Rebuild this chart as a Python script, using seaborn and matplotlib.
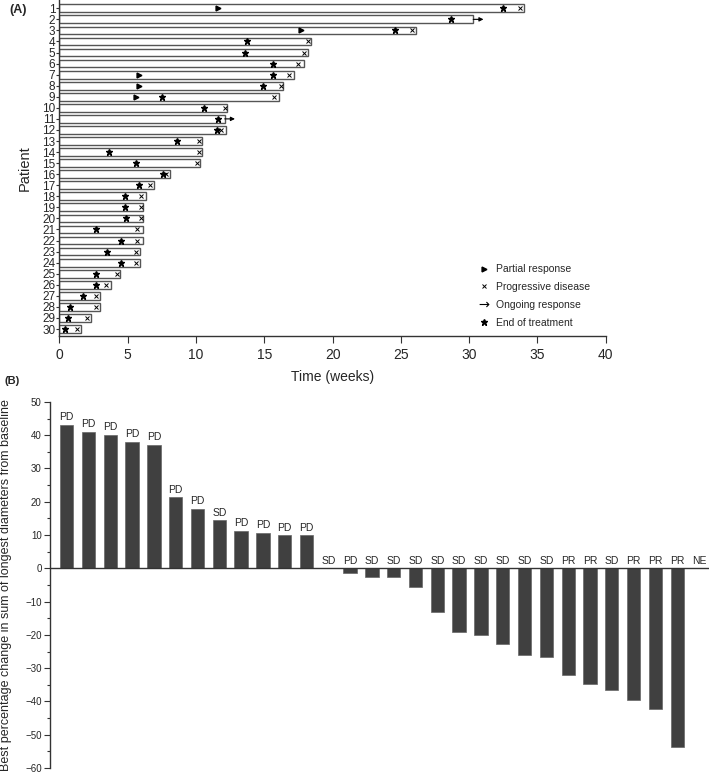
import numpy as np
import pandas as pd
import matplotlib
matplotlib.use("Agg")
import matplotlib.pyplot as plt
import seaborn as sns
from matplotlib.lines import Line2D
from matplotlib.ticker import MultipleLocator

# panel A: swimmer plot (weeks)
patients = [str(i) for i in range(1, 31)]
duration = [34.0, 30.3, 26.1, 18.4, 18.2, 17.9, 17.2, 16.4, 16.1, 12.3,
            12.1, 12.2, 10.4, 10.4, 10.3, 8.1, 6.9, 6.3, 6.1, 6.1,
            6.1, 6.1, 5.9, 5.9, 4.4, 3.8, 3.0, 3.0, 2.3, 1.6]
end_treatment = [32.5, 28.7, 24.6, 13.7, 13.6, 15.6, 15.6, 14.9, 7.5, 10.6,
                 11.6, 11.5, 8.6, 3.6, 5.6, 7.6, 5.8, 4.8, 4.8, 4.9,
                 2.7, 4.5, 3.5, 4.5, 2.7, 2.7, 1.7, 0.8, 0.6, 0.4]
progression = [33.7, np.nan, 25.8, 18.2, 17.9, 17.5, 16.8, 16.2, 15.7, 12.1,
               np.nan, 11.8, 10.2, 10.2, 10.1, 7.8, 6.6, 6.0, 6.0, 6.0,
               5.7, 5.7, 5.6, 5.6, 4.2, 3.4, 2.7, 2.7, 2.0, 1.3]
pr_patients = [1, 3, 7, 8, 9]
pr_time = [11.6, 17.7, 5.8, 5.8, 5.6]
ongoing_patients = [2, 11]

# panel B: waterfall (best % change)
change = [43.2, 40.9, 40.1, 38.0, 37.2, 21.3, 17.8, 14.4, 11.2, 10.6,
          9.9, 9.9, 0.0, -1.5, -2.7, -2.7, -5.7, -13.1, -19.1, -19.9,
          -22.8, -26.0, -26.5, -32.0, -34.9, -36.5, -39.7, -42.4, -53.6, 0.0]
response = (["PD"] * 7 + ["SD"] + ["PD"] * 4 + ["SD", "PD"] + ["SD"] * 9
            + ["PR", "PR", "SD", "PR", "PR", "PR", "NE"])

sns.set_style("ticks")
plt.rcParams["font.family"] = ["Liberation Sans", "DejaVu Sans"]
dark = "#333333"

fig = plt.figure(figsize=(7.09, 7.81), dpi=100)
axA = fig.add_axes([0.0839, 0.5698, 0.7704, 0.4302])
axB = fig.add_axes([0.0705, 0.01665, 0.9295, 0.4687])

# ---- A
dfA = pd.DataFrame({"patient": patients, "weeks": duration})
sns.barplot(data=dfA, x="weeks", y="patient", orient="h", ax=axA, width=0.7,
            color="white", edgecolor="#555555", linewidth=1.0)
rows = np.arange(len(patients))
axA.plot(end_treatment, rows, ls="none", marker="*", ms=4.5, color="black")
axA.plot(progression, rows, ls="none", marker="x", ms=3.5, mew=0.7, color="black")
axA.plot(pr_time, [p - 1 for p in pr_patients], ls="none", marker=">", ms=3.5,
         color="black")
for p in ongoing_patients:
    axA.annotate("", xy=(duration[p - 1] + 0.75, p - 1), xytext=(duration[p - 1], p - 1),
                 arrowprops=dict(arrowstyle="-|>", color="black", lw=0.8,
                                 mutation_scale=6, shrinkA=0, shrinkB=0))
axA.set_xlim(0, 40)
axA.set_ylim(29.63, -0.75)
axA.xaxis.set_major_locator(MultipleLocator(5))
axA.tick_params(axis="x", labelsize=10, length=5, width=0.8, color=dark)
axA.tick_params(axis="y", labelsize=8.5, length=2, width=0.8, color=dark, pad=1)
axA.set_xlabel("Time (weeks)", fontsize=10)
axA.set_ylabel("Patient", fontsize=10.5)
axA.xaxis.set_label_coords(0.5, -0.101)
axA.yaxis.set_label_coords(-0.05, 0.5)
sns.despine(ax=axA)
for s in ["left", "bottom"]:
    axA.spines[s].set_color(dark)
    axA.spines[s].set_linewidth(1.0)

handles = [
    Line2D([], [], ls="none", marker=">", ms=3.5, color="black"),
    Line2D([], [], ls="none", marker="x", ms=3.5, mew=0.7, color="black"),
    Line2D([], [], ls="none", marker=r"$\rightarrow$", ms=7, mew=0, color="black"),
    Line2D([], [], ls="none", marker="*", ms=4.5, color="black"),
]
labels = ["Partial response", "Progressive disease", "Ongoing response", "End of treatment"]
fig.legend(handles, labels, loc="upper left", bbox_to_anchor=(474 / 709, 1 - 259 / 781),
           frameon=False, borderpad=0, handlelength=1.0, handletextpad=0.6,
           labelspacing=0.75, fontsize=7.5)

# ---- B
idx = list(range(len(change)))
sns.barplot(x=idx, y=change, ax=axB, color="#404040", width=0.61,
            edgecolor="#666666", linewidth=0.5, saturation=1)
for i, (v, r) in enumerate(zip(change, response)):
    axB.annotate(r, xy=(i, max(v, 0)), xytext=(0, 2), textcoords="offset points",
                 ha="center", va="bottom", fontsize=7.5)
axB.axhline(0, color=dark, lw=1.0)
axB.set_xlim(-0.766, 29.46)
axB.set_ylim(-60, 50)
axB.yaxis.set_major_locator(MultipleLocator(10))
axB.yaxis.set_minor_locator(MultipleLocator(5))
axB.tick_params(axis="y", which="major", labelsize=7, length=4, width=0.8, color=dark, pad=2)
axB.tick_params(axis="y", which="minor", length=2, width=0.8, color=dark)
axB.set_xticks([])
axB.set_ylabel("Best percentage change in sum of longest diameters from baseline",
               fontsize=9)
axB.yaxis.set_label_coords(-0.058, 0.5)
sns.despine(ax=axB, bottom=True)
axB.spines["left"].set_color(dark)
axB.spines["left"].set_linewidth(1.0)

fig.text(18 / 709, 1 - 10 / 781, "(A)", ha="center", va="center",
         fontweight="bold", fontsize=9)
fig.text(12 / 709, 1 - 381 / 781, "(B)", ha="center", va="center",
         fontweight="bold", fontsize=8)

fig.savefig("out.png", dpi=100)
